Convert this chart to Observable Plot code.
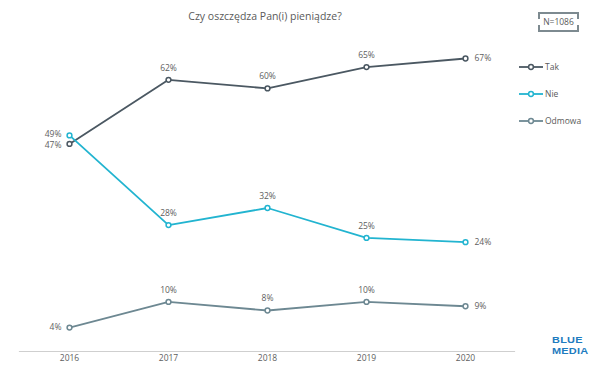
<!DOCTYPE html>
<html><head><meta charset="utf-8">
<script src="https://cdn.jsdelivr.net/npm/d3@7"></script>
<script src="https://cdn.jsdelivr.net/npm/@observablehq/plot@0.6"></script>
<style>
html,body{margin:0;padding:0;background:#fff;}
#wrap{position:relative;width:602px;height:365px;font-family:"Open Sans",sans-serif;overflow:hidden;}
#wrap svg{position:absolute;left:0;top:0;}
.title{position:absolute;top:9px;left:0;width:530px;text-align:center;font-size:10.5px;color:#5a5a5a;}
.nbox{position:absolute;left:538px;top:12px;width:41px;height:20px;font-size:8.5px;color:#5a5a5a;text-align:center;line-height:20px;}
.nbox .c{position:absolute;width:6px;height:5px;border-color:#7d8a90;border-style:solid;border-width:0;}
.leg{position:absolute;left:519px;font-size:8.5px;color:#5a5a5a;display:flex;align-items:center;}
.logo{position:absolute;left:552px;font-weight:700;font-size:9.6px;line-height:normal;letter-spacing:0.2px;color:#1f7cc0;font-family:"Liberation Sans",sans-serif;transform:scaleX(1.14);transform-origin:0 0;}
</style></head>
<body><div id="wrap"></div>
<script>
const years = ["2016","2017","2018","2019","2020"];
const seriesNames = ["Tak","Nie","Odmowa"];
const tak = [47,62,60,65,67];
const nie = [49,28,32,25,24];
const odmowa = [4,10,8,10,9];
const colors = ["#4b5862","#22b4d0","#6d8892"];
const titleText = "Czy oszczędza Pan(i) pieniądze?";
const nText = "N=1086";
const logoLines = ["BLUE","MEDIA"];

const values = [tak, nie, odmowa];
const data = [];
seriesNames.forEach((s, si) => values[si].forEach((v, i) => data.push({series: s, year: years[i], value: v, idx: i})));
const firsts = data.filter(d => d.idx === 0);
const lasts = data.filter(d => d.idx === years.length - 1);
const mids = data.filter(d => d.idx > 0 && d.idx < years.length - 1);
// first-column labels: nudge apart the ones that sit very close together
const near = d => firsts.find(o => o !== d && Math.abs(o.value - d.value) < 4);
const firstsUp = firsts.filter(d => near(d) && d.value > near(d).value);
const firstsDown = firsts.filter(d => near(d) && d.value < near(d).value);
const firstsRest = firsts.filter(d => !near(d));

const labelColor = "#5e5e5e";
const lbl = d => d.value + "%";
const plot = Plot.plot({
  width: 602, height: 365,
  marginLeft: 19, marginRight: 88, marginTop: 58, marginBottom: 14,
  x: {type: "point", domain: years, padding: 0.5, label: null},
  y: {domain: [-1.6, 67], axis: null},
  color: {domain: seriesNames, range: colors},
  style: {fontFamily: "Open Sans, sans-serif", background: "transparent", overflow: "visible"},
  marks: [
    Plot.frame({anchor: "bottom", stroke: "#cfcfcf", strokeWidth: 1.2, strokeOpacity: 1}),
    Plot.axisX({tickSize: 0, tickPadding: 3, fontSize: 8.5, color: labelColor, label: null}),
    Plot.line(data, {x: "year", y: "value", z: "series", stroke: "series", strokeWidth: 1.8}),
    Plot.dot(data, {x: "year", y: "value", stroke: "series", fill: "white", r: 2.4, strokeWidth: 1.5}),
    Plot.text(mids, {x: "year", y: "value", text: lbl, dy: -12, fontSize: 8.5, fill: labelColor}),
    Plot.text(firstsRest, {x: "year", y: "value", text: lbl, dx: -8, textAnchor: "end", fontSize: 8.5, fill: labelColor}),
    Plot.text(firstsUp, {x: "year", y: "value", text: lbl, dx: -8, dy: -1.5, textAnchor: "end", fontSize: 8.5, fill: labelColor}),
    Plot.text(firstsDown, {x: "year", y: "value", text: lbl, dx: -8, dy: 1.5, textAnchor: "end", fontSize: 8.5, fill: labelColor}),
    Plot.text(lasts, {x: "year", y: "value", text: lbl, dx: 9, textAnchor: "start", fontSize: 8.5, fill: labelColor})
  ]
});
const wrap = document.getElementById("wrap");
wrap.appendChild(plot);

const t = document.createElement("div");
t.className = "title"; t.textContent = titleText; wrap.appendChild(t);

const nb = document.createElement("div");
nb.className = "nbox"; nb.textContent = nText;
[["left:0;top:0","border-left-width:2px;border-top-width:2px"],
 ["right:0;top:0","border-right-width:2px;border-top-width:2px"],
 ["left:0;bottom:0","border-left-width:2px;border-bottom-width:2px"],
 ["right:0;bottom:0","border-right-width:2px;border-bottom-width:2px"]].forEach(([p,b]) => {
  const c = document.createElement("div"); c.className = "c"; c.style.cssText = p + ";" + b; nb.appendChild(c);
});
const tl = document.createElement("div"); tl.style.cssText = "position:absolute;left:0;right:0;top:0;border-top:2px solid #7d8a90;";
const bl = document.createElement("div"); bl.style.cssText = "position:absolute;left:0;right:0;bottom:0;border-bottom:2px solid #7d8a90;";
nb.appendChild(tl); nb.appendChild(bl);
wrap.appendChild(nb);

const legTops = [61, 88, 115];
seriesNames.forEach((s, i) => {
  const d = document.createElement("div");
  d.className = "leg"; d.style.top = legTops[i] + "px";
  d.innerHTML = `<svg width="24" height="10" style="position:static"><line x1="0" x2="24" y1="5" y2="5" stroke="${colors[i]}" stroke-width="1.8"/><circle cx="12" cy="5" r="2.4" fill="white" stroke="${colors[i]}" stroke-width="1.5"/></svg><span style="margin-left:2px">${s}</span>`;
  wrap.appendChild(d);
});

const logoTops = [334, 344.8];
logoLines.forEach((txt, i) => {
  const l = document.createElement("div");
  l.className = "logo"; l.style.top = logoTops[i] + "px"; l.textContent = txt; wrap.appendChild(l);
});
</script></body></html>
